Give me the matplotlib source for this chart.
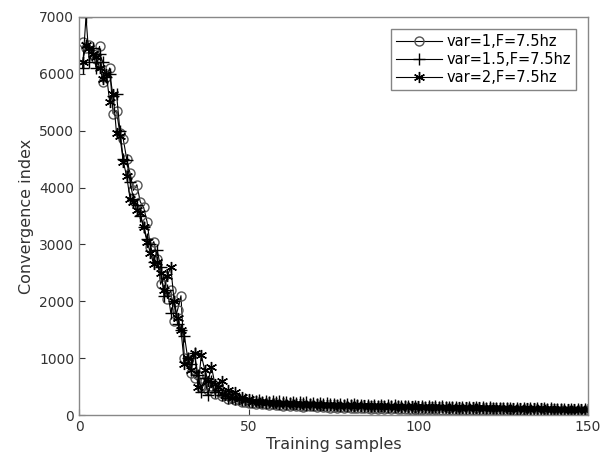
import matplotlib
matplotlib.use("Agg")
import matplotlib.pyplot as plt
import numpy as np

samples = list(range(1, 151))

var1 = [6550, 6450, 6500, 6350, 6250, 6480, 5850, 5950, 6100, 5300,
        5350, 4950, 4850, 4500, 4250, 3950, 4050, 3750, 3650, 3400,
        2950, 3050, 2750, 2300, 2450, 2050, 2200, 1650, 1850, 2100,
        1000, 950, 750, 650, 700, 500, 600, 450, 520, 380,
        420, 330, 350, 280, 300, 260, 270, 230, 240, 210,
        220, 200, 210, 190, 200, 180, 195, 175, 185, 170,
        180, 165, 175, 160, 170, 150, 165, 155, 160, 145,
        155, 140, 150, 135, 148, 130, 145, 128, 140, 125,
        135, 120, 130, 118, 128, 115, 125, 112, 122, 110,
        120, 108, 118, 105, 115, 102, 112, 100, 110, 98,
        108, 96, 105, 95, 103, 93, 100, 92, 98, 90,
        97, 88, 95, 87, 93, 86, 92, 85, 90, 84,
        89, 82, 88, 81, 86, 80, 85, 79, 84, 78,
        83, 77, 82, 76, 80, 75, 79, 74, 78, 73,
        77, 72, 76, 71, 75, 70, 74, 69, 73, 72]

var15 = [6100, 7000, 6200, 6450, 6100, 6350, 6200, 5950, 6000, 5600,
         5650, 5000, 4500, 4480, 4100, 3800, 3700, 3500, 3300, 3100,
         3000, 2700, 2900, 2600, 2100, 2200, 1800, 2000, 1600, 1500,
         1400, 1000, 900, 1100, 700, 400, 650, 350, 600, 400,
         450, 350, 380, 300, 320, 280, 300, 260, 280, 250,
         270, 250, 260, 240, 255, 235, 250, 230, 245, 225,
         240, 220, 235, 215, 230, 210, 225, 205, 220, 200,
         215, 195, 210, 190, 205, 185, 200, 180, 195, 175,
         190, 172, 185, 170, 182, 168, 180, 165, 178, 162,
         175, 160, 172, 158, 170, 155, 168, 152, 165, 150,
         162, 148, 160, 145, 158, 142, 155, 140, 152, 138,
         150, 135, 148, 132, 145, 130, 142, 128, 140, 125,
         138, 122, 135, 120, 132, 118, 130, 115, 128, 112,
         126, 110, 124, 108, 122, 106, 120, 105, 118, 103,
         116, 102, 114, 100, 112, 98, 110, 96, 108, 100]

var2 = [6200, 6500, 6450, 6350, 6300, 6100, 5900, 6000, 5500, 5650,
        4950, 4900, 4450, 4200, 3800, 3750, 3600, 3550, 3300, 3050,
        2850, 2650, 2700, 2500, 2200, 2450, 2600, 2000, 1700, 1500,
        900, 1000, 800, 1100, 500, 1050, 800, 600, 850, 550,
        500, 600, 350, 450, 300, 400, 280, 320, 260, 280,
        240, 250, 230, 240, 220, 230, 210, 220, 205, 215,
        200, 210, 195, 205, 190, 200, 185, 195, 180, 190,
        178, 188, 175, 185, 172, 182, 170, 180, 168, 178,
        165, 175, 162, 172, 160, 170, 158, 168, 155, 165,
        152, 162, 150, 160, 148, 158, 146, 156, 144, 154,
        142, 152, 140, 150, 138, 148, 136, 146, 134, 144,
        132, 142, 130, 140, 128, 138, 126, 136, 124, 134,
        122, 132, 120, 130, 118, 128, 116, 126, 114, 124,
        112, 122, 110, 120, 108, 118, 106, 116, 104, 114,
        102, 112, 100, 110, 98, 108, 96, 106, 94, 104]

labels = ["var=1,F=7.5hz", "var=1.5,F=7.5hz", "var=2,F=7.5hz"]

fig = plt.figure(figsize=(6.0, 4.66), dpi=100)
ax = fig.add_axes([0.132, 0.109, 0.848, 0.855])

ax.plot(samples, var1, color="black", lw=0.8, marker="o", ms=6.5,
        mfc="none", mec="#555555", mew=1.0, label=labels[0])
ax.plot(samples, var15, color="black", lw=0.8, marker="+", ms=9,
        mec="black", mew=1.0, label=labels[1])
ax.plot(samples, var2, color="black", lw=0.8, marker=(6, 2, 0), ms=8,
        mec="black", mew=1.0, label=labels[2])

ax.set_xlim(0, 150)
ax.set_ylim(0, 7000)
ax.set_xticks([0, 50, 100, 150])
ax.set_yticks(range(0, 7001, 1000))
ax.tick_params(direction="in", length=4, colors="#333333", labelsize=10,
               top=False, right=False)
for s in ax.spines.values():
    s.set_color("#888888")
    s.set_linewidth(1.0)
ax.set_xlabel("Training samples", fontsize=11.5, color="#333333", labelpad=2)
ax.set_ylabel("Convergence index", fontsize=11.5, color="#333333", labelpad=4)

leg = ax.legend(loc="upper right", fontsize=10.5, frameon=True, fancybox=False,
                edgecolor="#666666", borderpad=0.35, labelspacing=0.2,
                handlelength=3.2, handletextpad=0.3, borderaxespad=0.0,
                bbox_to_anchor=(0.977, 0.97))
leg.get_frame().set_linewidth(1.0)

fig.savefig("out.png", dpi=100)
